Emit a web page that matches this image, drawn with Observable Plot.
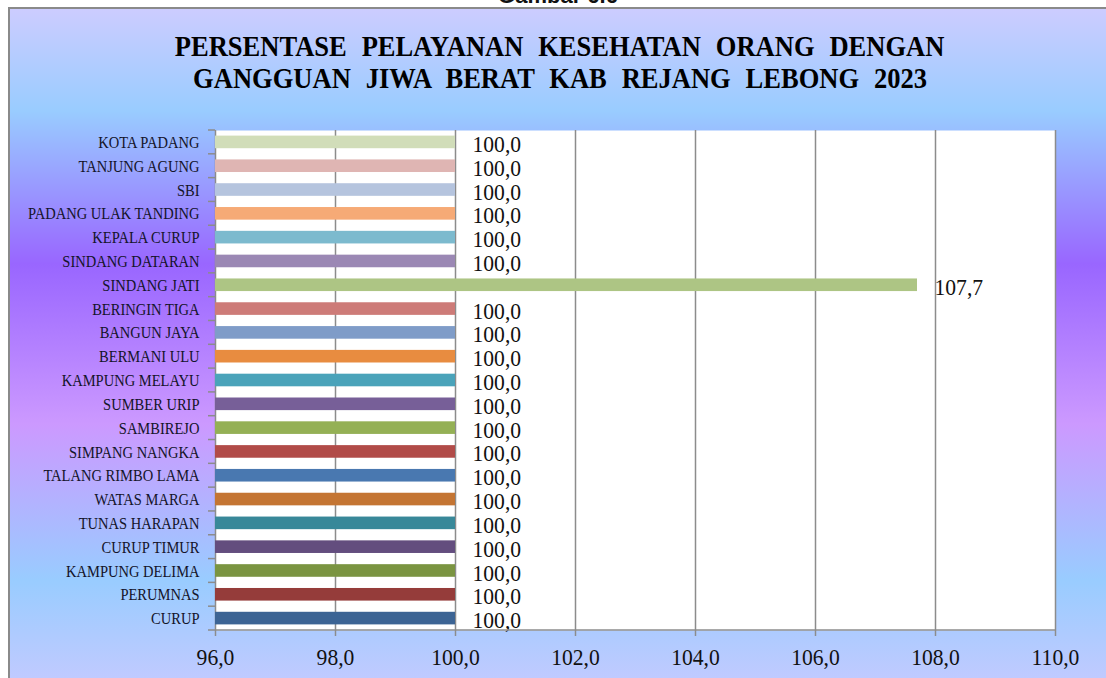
<!DOCTYPE html>
<html>
<head>
<meta charset="utf-8">
<script src="https://cdn.jsdelivr.net/npm/d3@7"></script>
<script src="https://cdn.jsdelivr.net/npm/@observablehq/plot@0.6"></script>
<style>
  html, body { margin: 0; padding: 0; width: 1106px; height: 678px; overflow: hidden; background: #ffffff; }
  #caption { position: absolute; left: 0; top: -15px; width: 1116px; text-align: center;
    font: bold 22px "Liberation Sans", Arial, sans-serif; color: #111; line-height: 22px; }
  #wrap { position: absolute; left: 8px; top: 7px; width: 1110px; height: 680px;
    border-left: 2px solid #8a8a8a; border-top: 2px solid #8a8a8a;
    background: linear-gradient(to bottom, #ccccff 0%, #99ccff 15%, #9966ff 37.5%, #cc99ff 61%, #99ccff 84%, #c4caff 100%); }
  #title { position: absolute; left: 0; top: 21px; width: 1100px; text-align: center;
    font: bold 29px "Liberation Serif", serif; color: #000; line-height: 32px; }
  #title span { display: inline-block; transform: scaleX(0.915); white-space: nowrap; word-spacing: 9px; }
  #chart { position: absolute; left: 0; top: 113px; }
</style>
</head>
<body>
<div id="caption">Gambar 6.6</div>
<div id="wrap">
  <div id="title"><span>PERSENTASE PELAYANAN KESEHATAN ORANG DENGAN</span><br><span>GANGGUAN JIWA BERAT KAB REJANG LEBONG 2023</span></div>
  <div id="chart"></div>
</div>
<script>
// Categories, top to bottom as drawn
const categories = [
  "KOTA PADANG", "TANJUNG AGUNG", "SBI", "PADANG ULAK TANDING", "KEPALA CURUP",
  "SINDANG DATARAN", "SINDANG JATI", "BERINGIN TIGA", "BANGUN JAYA", "BERMANI ULU",
  "KAMPUNG MELAYU", "SUMBER URIP", "SAMBIREJO", "SIMPANG NANGKA", "TALANG RIMBO LAMA",
  "WATAS MARGA", "TUNAS HARAPAN", "CURUP TIMUR", "KAMPUNG DELIMA", "PERUMNAS", "CURUP"
];
const values = [
  100.0, 100.0, 100.0, 100.0, 100.0,
  100.0, 107.7, 100.0, 100.0, 100.0,
  100.0, 100.0, 100.0, 100.0, 100.0,
  100.0, 100.0, 100.0, 100.0, 100.0, 100.0
];
const barColors = [
  "#d1ddb9", "#dfb5b3", "#b5c4de", "#f6aa76", "#7cbace",
  "#9b88b4", "#adc584", "#cd7b78", "#7f9cc8", "#e88c40",
  "#4aa3ba", "#775f98", "#94b055", "#b14b48", "#4978b0",
  "#c47533", "#388899", "#634d7e", "#7a9441", "#953c3a", "#3c6494"
];
const xTicks = [96, 98, 100, 102, 104, 106, 108, 110];

const data = categories.map((name, i) => ({name, value: values[i], color: barColors[i]}));
const fmt = d => d.toFixed(1).replace(".", ",");
const gray = "#8c8c8c";

const chart = Plot.plot({
  width: 1096,
  height: 556,
  marginLeft: 205,
  marginRight: 51,
  marginTop: 8,
  marginBottom: 48,
  style: {background: "transparent", fontFamily: "'Liberation Serif', serif", color: "#111"},
  x: {domain: [xTicks[0], xTicks[xTicks.length - 1]], ticks: xTicks, tickFormat: fmt, label: null},
  y: {domain: categories, padding: 0, round: false, label: null},
  color: {type: "identity"},
  marks: [
    Plot.frame({fill: "white", stroke: null}),
    Plot.gridX(xTicks, {stroke: gray, strokeOpacity: 1, strokeWidth: 1.5}),
    Plot.barX(data, {x1: xTicks[0], x2: "value", y: "name", fill: "color", insetTop: 5.6, insetBottom: 5.6}),
    Plot.text(data, {x: "value", y: "name", text: d => fmt(d.value), dx: 17, dy: 2, textAnchor: "start", fontSize: 23.5, fill: "#111"}),
    Plot.axisX(xTicks, {tickSize: 6, tickPadding: 12, tickFormat: fmt, fontSize: 23.5, stroke: gray, strokeWidth: 1.5, label: null}),
    Plot.axisY({tickSize: 0, tickPadding: 16, fontSize: 17.5, fill: "#14142a", label: null})
  ]
});

// Excel-style category boundary ticks and bottom axis line, placed through the plot's own scales
const ys = chart.scale("y");
const xs = chart.scale("x");
const [r0, r1] = ys.range;
const n = categories.length;
const xa = xs.apply(xTicks[0]);
const xb = xs.apply(xTicks[xTicks.length - 1]);
const g = d3.select(chart).append("g").attr("stroke", gray).attr("stroke-width", 1.5);
for (let i = 0; i <= n; i++) {
  const y = r0 + (r1 - r0) * i / n;
  g.append("line").attr("x1", xa - 7).attr("x2", xa).attr("y1", y).attr("y2", y);
}
g.append("line").attr("x1", xa).attr("x2", xb).attr("y1", r1).attr("y2", r1);

document.getElementById("chart").appendChild(chart);

// Narrow the serif glyphs horizontally (the original font is a condensed Cambria look)
function condense(selector, sx, anchor) {
  d3.select(chart).selectAll(selector).each(function() {
    const b = this.getBBox();
    const ax = anchor === "end" ? b.x + b.width : anchor === "start" ? b.x : b.x + b.width / 2;
    const t = this.getAttribute("transform") || "";
    this.setAttribute("transform", `${t} translate(${ax},0) scale(${sx},1) translate(${-ax},0)`);
  });
}
condense('g[aria-label="y-axis tick label"] text', 0.83, "end");
condense('g[aria-label="text"] text', 0.92, "start");
condense('g[aria-label="x-axis tick label"] text', 0.92, "middle");
</script>
</body>
</html>
